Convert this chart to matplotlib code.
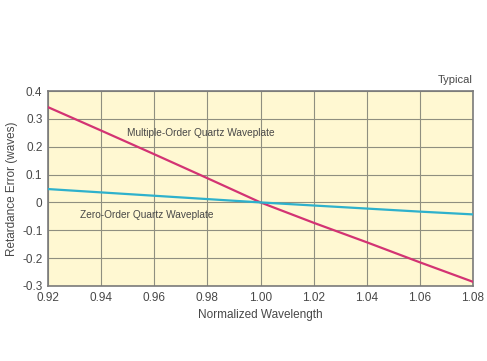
import matplotlib
matplotlib.use("Agg")
import matplotlib.pyplot as plt

wavelength = [0.92, 0.94, 0.96, 0.98, 1.00, 1.02, 1.04, 1.06, 1.08]
multiple_order = [0.342, 0.258, 0.173, 0.087, 0.0, -0.073, -0.143, -0.215, -0.285]
zero_order = [0.048, 0.036, 0.024, 0.012, 0.0, -0.011, -0.022, -0.033, -0.043]
xticks = [0.92, 0.94, 0.96, 0.98, 1.00, 1.02, 1.04, 1.06, 1.08]
xtick_labels = ["0.92", "0.94", "0.96", "0.98", "1.00", "1.02", "1.04", "1.06", "1.08"]
yticks = [-0.3, -0.2, -0.1, 0, 0.1, 0.2, 0.3, 0.4]
ytick_labels = ["-0.3", "-0.2", "-0.1", "0", "0.1", "0.2", "0.3", "0.4"]

plt.rcParams['font.family'] = ['Liberation Sans', 'DejaVu Sans']
txt = '#484848'

fig = plt.figure(figsize=(4.87, 3.61), dpi=100)
ax = fig.add_axes([48/487, 1-286/361, 425/487, 195/361])
ax.set_facecolor('#FFF8D2')
ax.plot(wavelength, multiple_order, color='#D33373', lw=1.6, zorder=3)
ax.plot(wavelength, zero_order, color='#2EB1CC', lw=1.6, zorder=3)
ax.set_xlim(0.92, 1.08)
ax.set_ylim(-0.3, 0.4)
ax.set_xticks(xticks)
ax.set_xticklabels(xtick_labels)
ax.set_yticks(yticks)
ax.set_yticklabels(ytick_labels)
ax.grid(True, color='#8f8f80', lw=0.8, zorder=1)
ax.set_axisbelow(True)
ax.tick_params(length=0, labelsize=8.5, colors=txt, pad=4)
for s in ax.spines.values():
    s.set_color('#7a7a7a')
    s.set_linewidth(1.2)
ax.set_xlabel('Normalized Wavelength', fontsize=8.5, color=txt, labelpad=4)
ax.set_ylabel('Retardance Error (waves)', fontsize=8.5, color=txt, labelpad=3)
ax.text(0.9776, 0.249, 'Multiple-Order Quartz Waveplate', fontsize=7.3, color=txt,
        ha='center', va='center')
ax.text(0.957, -0.045, 'Zero-Order Quartz Waveplate', fontsize=7.3, color=txt,
        ha='center', va='center')
ax.text(1.0, 1.03, 'Typical', transform=ax.transAxes, fontsize=8, color=txt,
        ha='right', va='bottom')
fig.savefig('out.png', dpi=100)
